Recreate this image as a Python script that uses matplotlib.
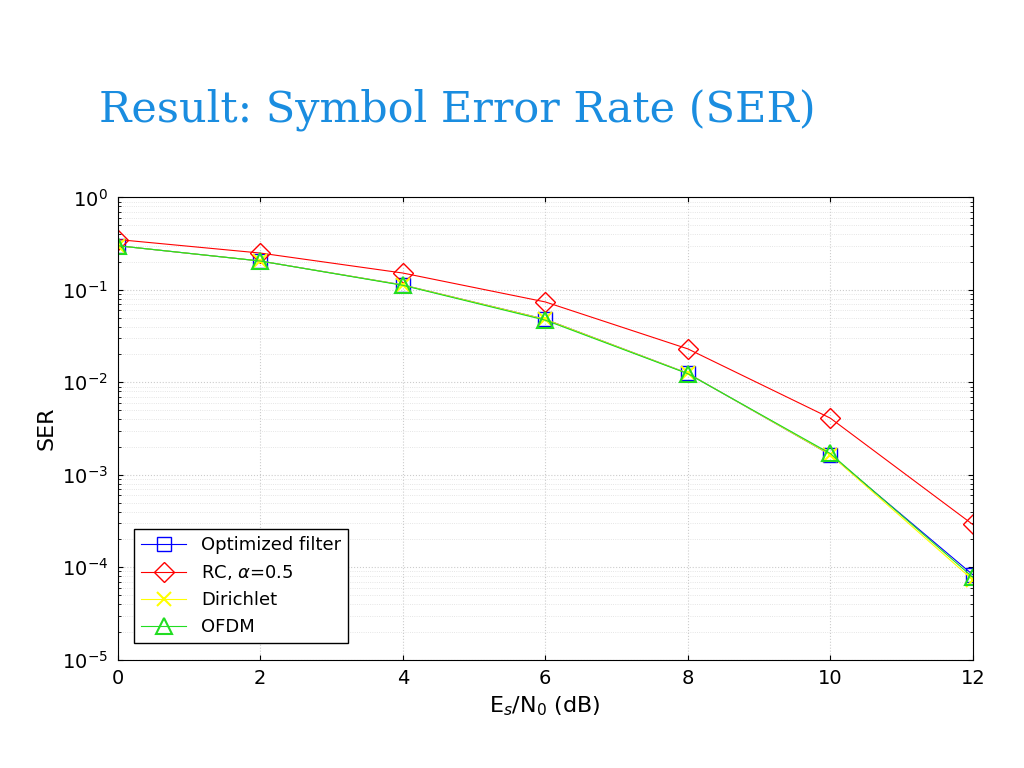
import numpy as np
import matplotlib
matplotlib.use("Agg")
import matplotlib.pyplot as plt

SNR_DB = [0, 2, 4, 6, 8, 10, 12]
SER_OPT = [0.30, 0.205, 0.113, 0.048, 0.0125, 0.00165, 8.3e-5]
SER_RC = [0.35, 0.25, 0.152, 0.074, 0.023, 0.0041, 2.9e-4]
SER_DIR = [0.30, 0.205, 0.113, 0.048, 0.0125, 0.00165, 7.3e-5]
SER_OFDM = [0.30, 0.205, 0.112, 0.047, 0.0124, 0.0017, 7.8e-5]

fig = plt.figure(figsize=(10.24, 7.68), dpi=100)
fig.text(0.097, 0.857, "Result: Symbol Error Rate (SER)", fontsize=31,
         color="#1a8de0", family="DejaVu Serif", va="center")

ax = fig.add_axes([0.115, 0.141, 0.835, 0.602])
ax.semilogy(SNR_DB, SER_OPT, color="blue", marker="s", ms=10, mfc="none", lw=0.8,
            label="Optimized filter")
ax.semilogy(SNR_DB, SER_RC, color="red", marker="D", ms=10, mfc="none", lw=0.8,
            label=r"RC, $\alpha$=0.5")
ax.semilogy(SNR_DB, SER_DIR, color="yellow", marker="x", ms=10, lw=0.8, mew=1.5,
            label="Dirichlet")
ax.semilogy(SNR_DB, SER_OFDM, color="#22dd22", marker="^", ms=11, mfc="none", lw=0.8,
            mew=1.5, label="OFDM")

ax.set_xlim(0, 12)
ax.set_ylim(1e-5, 1)
ax.set_xticks(SNR_DB)
ax.grid(True, which="major", color="#cccccc", ls=":", lw=0.8)
ax.grid(True, which="minor", color="#dddddd", ls=":", lw=0.6)
ax.tick_params(labelsize=14, which="both", direction="in", top=True, right=True, pad=7)
ax.set_xlabel(r"E$_s$/N$_0$ (dB)", fontsize=16)
ax.set_ylabel("SER", fontsize=16)
leg = ax.legend(loc="lower left", fontsize=13, fancybox=False, framealpha=1,
                edgecolor="black", borderaxespad=0.9, handlelength=2.5)

fig.savefig("out.png", dpi=100)
